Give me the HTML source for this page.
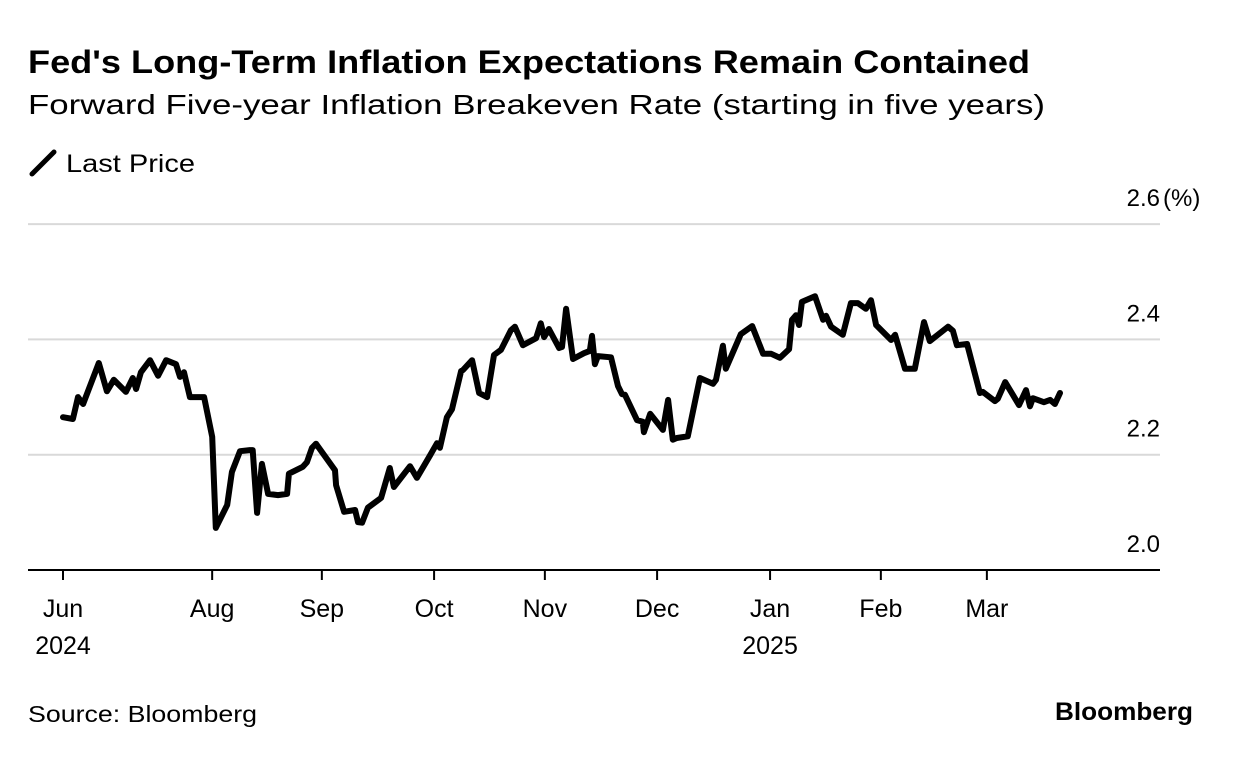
<!DOCTYPE html>
<html><head><meta charset="utf-8"><style>
body{margin:0;background:#fff;width:1233px;height:754px;overflow:hidden;font-family:"Liberation Sans",sans-serif}
</style></head><body>
<svg width="1233" height="754" style="font-family:'Liberation Sans',sans-serif">
<text x="28" y="73" font-size="32" font-weight="bold" fill="#000" textLength="1002" lengthAdjust="spacingAndGlyphs">Fed's Long-Term Inflation Expectations Remain Contained</text>
<text x="28" y="114" font-size="28" fill="#000" textLength="1017" lengthAdjust="spacingAndGlyphs">Forward Five-year Inflation Breakeven Rate (starting in five years)</text>
<g><line x1="32" y1="174" x2="54" y2="152" stroke="#000" stroke-width="5" stroke-linecap="round"/><text x="66" y="172" font-size="25" textLength="129" lengthAdjust="spacingAndGlyphs">Last Price</text></g>
<g id="grid"></g><g id="xaxis"></g>
<path id="line" fill="none" stroke="#000" stroke-width="6" stroke-linejoin="round" stroke-linecap="round"/>
<text x="28" y="722" font-size="23" textLength="229" lengthAdjust="spacingAndGlyphs">Source: Bloomberg</text>
<text x="1055" y="720" font-size="25" font-weight="bold" textLength="138" lengthAdjust="spacingAndGlyphs">Bloomberg</text>
</svg>
<script>
const days=[0,2.7,4.1,5.5,9.8,12,13.9,17.2,19.1,20,21.3,23.8,26,28.2,30.9,32,33.1,34.7,38.6,40.8,41.8,44.9,46.2,48.4,51.1,51.9,53.1,54.4,56.1,58.8,61.3,61.8,65.6,66.7,68.1,69.2,74.4,74.7,76.9,79.9,80.7,81.8,83.4,87,89.4,90.5,94.9,96.8,100.4,102.3,103.1,105,106.4,108.9,109.4,111.9,113.8,116,117.9,119.8,122.5,123.6,125.8,129.4,130.7,131.6,132.9,135.7,136.5,137.6,139.5,142.5,144.1,144.7,145.5,146.3,149.9,151.8,152.9,153.7,157,158.6,158.9,160.6,164.1,165.5,166.8,167.9,170.9,174.2,177.8,178.6,180.5,181.3,185.4,188.5,191.5,193.7,196.1,198.6,199.4,200.5,201.3,202.1,205.7,207.9,208.7,210.1,213.3,215.5,217.4,219.6,221,222.4,226.5,227.6,230.3,233,235.5,237.1,242.1,243.4,244.5,247.3,250.8,251.6,254.9,255.7,257.7,261.5,263.4,264.5,265.3,268.3,270,271.3,272.7];
const values=[2.265,2.262,2.300,2.288,2.359,2.310,2.330,2.309,2.333,2.314,2.343,2.364,2.337,2.364,2.357,2.335,2.343,2.300,2.300,2.231,2.073,2.113,2.170,2.206,2.208,2.208,2.099,2.184,2.132,2.130,2.132,2.167,2.179,2.187,2.212,2.219,2.173,2.147,2.101,2.104,2.083,2.082,2.108,2.125,2.177,2.144,2.180,2.160,2.199,2.220,2.212,2.265,2.279,2.345,2.347,2.364,2.307,2.300,2.373,2.382,2.416,2.422,2.390,2.402,2.428,2.404,2.418,2.385,2.387,2.453,2.366,2.376,2.380,2.406,2.357,2.371,2.369,2.319,2.305,2.304,2.260,2.257,2.239,2.271,2.243,2.295,2.226,2.229,2.232,2.333,2.323,2.330,2.389,2.349,2.409,2.423,2.375,2.375,2.368,2.383,2.434,2.442,2.425,2.465,2.475,2.434,2.441,2.422,2.408,2.463,2.463,2.453,2.468,2.425,2.399,2.408,2.349,2.349,2.430,2.397,2.422,2.415,2.390,2.392,2.307,2.309,2.293,2.297,2.326,2.286,2.312,2.284,2.298,2.291,2.295,2.288,2.307];
const yTicks=[2.0,2.2,2.4,2.6];
const yTickLabels=["2.0","2.2","2.4","2.6"];
const xTickDays=[0,40.8,70.8,101.5,131.8,162.5,193.4,223.7,252.7];
const xTickLabels=["Jun","Aug","Sep","Oct","Nov","Dec","Jan","Feb","Mar"];
const xYearLabels=["2024","","","","","","2025","",""];
const X=d=>63+d*3.656, Y=v=>570-(v-2)*576.5;
const NS="http://www.w3.org/2000/svg";
const grid=document.getElementById('grid'), xa=document.getElementById('xaxis');
function mk(tag,at,parent){const e=document.createElementNS(NS,tag);for(const k in at)e.setAttribute(k,at[k]);parent.appendChild(e);return e;}
yTicks.forEach((v,i)=>{
  if(v>2.0){const l=mk('line',{x1:28,x2:1160,y1:Y(v),y2:Y(v),stroke:'#d9d9d9','stroke-width':2},grid);
  
  }
  const t=mk('text',{x:1160,y:Y(v)-18,'text-anchor':'end','font-size':24},grid);t.textContent=yTickLabels[i];
  
  
});
const u=mk('text',{x:1163,y:Y(2.6)-18,'font-size':24},grid);u.textContent='(%)';


const ax=mk('line',{x1:28,x2:1160,y1:570,y2:570,stroke:'#000','stroke-width':2},xa);


xTickDays.forEach((d,i)=>{
  mk('line',{x1:X(d),x2:X(d),y1:570,y2:580,stroke:'#000','stroke-width':2},xa);
  const t=mk('text',{x:X(d),y:617,'text-anchor':'middle','font-size':25},xa);t.textContent=xTickLabels[i];
  
  
  if(xYearLabels[i]){const y=mk('text',{x:X(d),y:654,'text-anchor':'middle','font-size':25},xa);y.textContent=xYearLabels[i];
  
  }
});
document.getElementById('line').setAttribute('d',days.map((d,i)=>(i?'L':'M')+X(d).toFixed(1)+','+Y(values[i]).toFixed(1)).join(''));
</script>
</body></html>
